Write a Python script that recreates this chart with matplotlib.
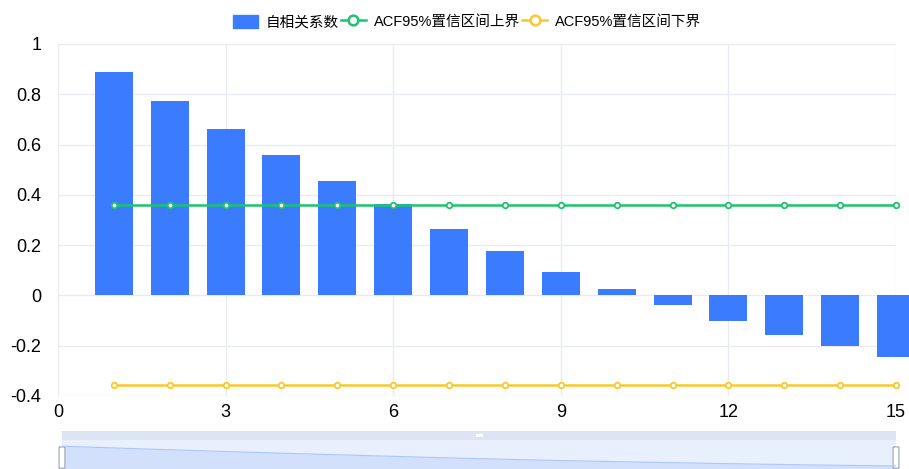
import matplotlib.pyplot as plt
import numpy as np
from matplotlib.patches import Rectangle, FancyBboxPatch
from matplotlib.lines import Line2D

plt.rcParams['font.family'] = ['Liberation Sans', 'Noto Sans CJK SC', 'DejaVu Sans']

# data
lags = [1, 2, 3, 4, 5, 6, 7, 8, 9, 10, 11, 12, 13, 14, 15]
acf = [0.887, 0.772, 0.662, 0.557, 0.457, 0.362, 0.264, 0.175, 0.095, 0.024,
       -0.040, -0.100, -0.156, -0.203, -0.243]
upper = [0.358] * 15
lower = [-0.358] * 15
x_ticks = [0, 3, 6, 9, 12, 15]
y_ticks = [-0.4, -0.2, 0, 0.2, 0.4, 0.6, 0.8, 1]
y_labels = ['-0.4', '-0.2', '0', '0.2', '0.4', '0.6', '0.8', '1']
legend_labels = ['自相关系数', 'ACF95%置信区间上界', 'ACF95%置信区间下界']

blue = '#3b7cff'
green = '#1cc46c'
yellow = '#f9c92c'
grid_col = '#e8ebf2'

fig = plt.figure(figsize=(9.09, 4.69), dpi=100)
ax = fig.add_axes([58 / 909, 1 - 396 / 469, 838 / 909, 352 / 469])

bars = ax.bar(lags, acf, width=0.68, color=blue, zorder=2)
for b in bars:
    b.set_clip_on(False)
ax.plot(lags, upper, color=green, lw=1.8, marker='o', ms=4, mfc='white',
        mec=green, mew=1.3, zorder=3, clip_on=False)
ax.plot(lags, lower, color=yellow, lw=1.8, marker='o', ms=4, mfc='white',
        mec=yellow, mew=1.3, zorder=3, clip_on=False)

ax.set_xlim(0, 15)
ax.set_ylim(-0.4, 1)
ax.set_xticks(x_ticks)
ax.set_yticks(y_ticks)
ax.set_yticklabels(y_labels)
ax.tick_params(length=0, labelsize=13, colors='black')
ax.tick_params(axis='x', pad=6)
ax.tick_params(axis='y', pad=12)
ax.grid(True, color=grid_col, lw=1, zorder=0)
for s in ax.spines.values():
    s.set_visible(False)

handles = [
    FancyBboxPatch((0, 0), 1, 1, boxstyle='round,pad=0,rounding_size=0.2', color=blue),
    Line2D([], [], color=green, lw=1.8, marker='o', ms=7, mfc='white', mec=green, mew=1.8),
    Line2D([], [], color=yellow, lw=1.8, marker='o', ms=7, mfc='white', mec=yellow, mew=1.8),
]
fig.legend(handles, legend_labels, loc='center', bbox_to_anchor=(467 / 909, 1 - 22 / 469),
           ncol=3, frameon=False,
           prop={'family': ['Liberation Sans', 'Noto Sans CJK SC'], 'size': 10.5},
           handlelength=1.7, handleheight=1.0, handletextpad=0.55, columnspacing=0.15,
           borderpad=0)

# data zoom slider
sl = fig.add_axes([62 / 909, 0, 834 / 909, 38 / 469])
sl.set_xlim(0, 1)
sl.set_ylim(0, 1)
sl.axis('off')
sl.add_patch(Rectangle((0, 0), 1, 0.76, color='#e8effd', lw=0))
sl.add_patch(Rectangle((0, 0.76), 1, 0.24, color='#dde4f3', lw=0))
sl.add_patch(Rectangle((0.497, 0.84), 0.008, 0.08, color='white', lw=0))
a = np.array(acf)
sx = np.linspace(0, 1, len(acf))
sy = 0.08 + (a - a.min()) / (a.max() - a.min()) * 0.52
sl.fill_between(sx, 0, sy, color='#d3e0fb', lw=0)
sl.plot(sx, sy, color='#adc6f6', lw=0.8)
for hx in (0, 1):
    sl.add_patch(FancyBboxPatch((hx - 0.0035, 0.02), 0.007, 0.56,
                                boxstyle='round,pad=0,rounding_size=0.003',
                                fc='white', ec='#9aa3b5', lw=0.8, clip_on=False))

fig.savefig('out.png', dpi=100)
